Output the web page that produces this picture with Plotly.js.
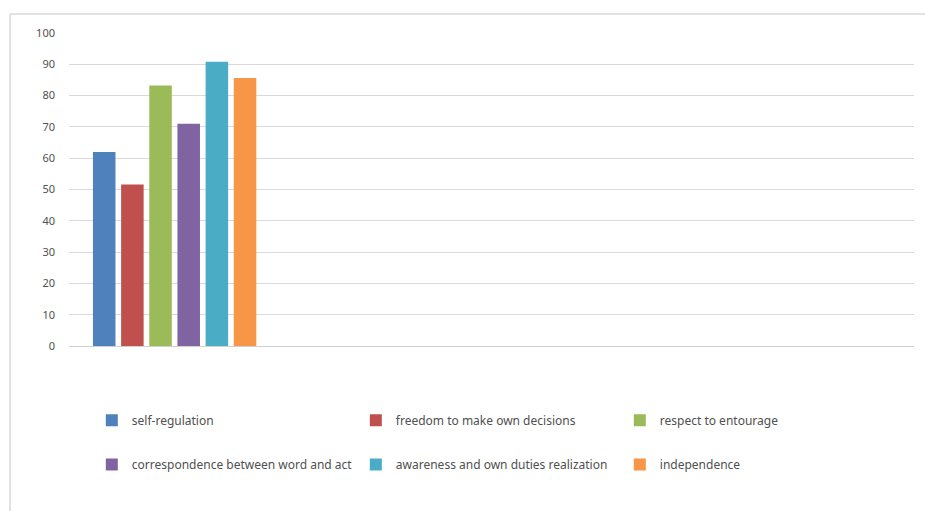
<!DOCTYPE html>
<html>
<head>
<meta charset="utf-8">
<script src="https://cdn.plot.ly/plotly-3.0.1.min.js"></script>
<style>html,body{margin:0;padding:0;background:#fff;}#chart{width:925px;height:511px;}</style>
</head>
<body>
<div id="chart"></div>
<script>
const categories = ["Group"];
const seriesNames = [
  "self-regulation",
  "freedom to make own decisions",
  "respect to entourage",
  "correspondence between word and act",
  "awareness and own duties realization",
  "independence"
];
const seriesValues = [62.0, 51.6, 83.2, 71.0, 90.8, 85.6];
const seriesColors = ["#4F81BD", "#C0504D", "#9BBB59", "#8064A2", "#4BACC6", "#F79646"];
const yTicks = [0, 10, 20, 30, 40, 50, 60, 70, 80, 90, 100];

const traces = seriesNames.map((name, i) => ({
  type: "bar",
  name: name,
  x: categories,
  y: [seriesValues[i]],
  marker: {color: seriesColors[i]},
  legend: i < 3 ? "legend" : "legend2",
  hoverinfo: "name+y"
}));

const legendCommon = {
  orientation: "h",
  xanchor: "left",
  yanchor: "middle",
  x: 0.027,
  bgcolor: "rgba(0,0,0,0)",
  entrywidth: 219,
  entrywidthmode: "pixels",
  font: {family: "Noto Sans, Liberation Sans, sans-serif", size: 12, color: "#505050"},
  traceorder: "normal"
};

const layout = {
  width: 925,
  height: 511,
  margin: {l: 69, r: 11, t: 33, b: 165.3},
  paper_bgcolor: "#ffffff",
  plot_bgcolor: "#ffffff",
  barmode: "group",
  bargap: 0.2,
  bargroupgap: 0.2,
  font: {family: "Noto Sans, Liberation Sans, sans-serif", size: 11, color: "#595959"},
  xaxis: {
    type: "category",
    range: [-0.5, 3.5],
    showticklabels: false,
    showgrid: false,
    zeroline: false,
    showline: false,
    ticks: ""
  },
  yaxis: {
    range: [0, 100],
    tickvals: yTicks,
    ticktext: yTicks.map(String),
    showgrid: true,
    gridcolor: "#d9d9d9",
    gridwidth: 1,
    zeroline: true,
    zerolinecolor: "#d0d0d0",
    zerolinewidth: 1,
    showline: false,
    ticks: "",
    ticklabelstandoff: 13,
    tickfont: {family: "Noto Sans, Liberation Sans, sans-serif", size: 11, color: "#505050"}
  },
  legend: Object.assign({}, legendCommon, {y: -0.2376}),
  legend2: Object.assign({}, legendCommon, {y: -0.3783}),
  shapes: [
    {type: "line", xref: "paper", yref: "paper", x0: -0.0698, x1: -0.0698, y0: 1.0608, y1: -0.55,
     line: {color: "#d9d9d9", width: 1.5}},
    {type: "line", xref: "paper", yref: "paper", x0: -0.0698, x1: 1.02, y0: 1.0608, y1: 1.0608,
     line: {color: "#d9d9d9", width: 1.5}}
  ]
};

Plotly.newPlot("chart", traces, layout, {displayModeBar: false, staticPlot: true});
</script>
</body>
</html>
